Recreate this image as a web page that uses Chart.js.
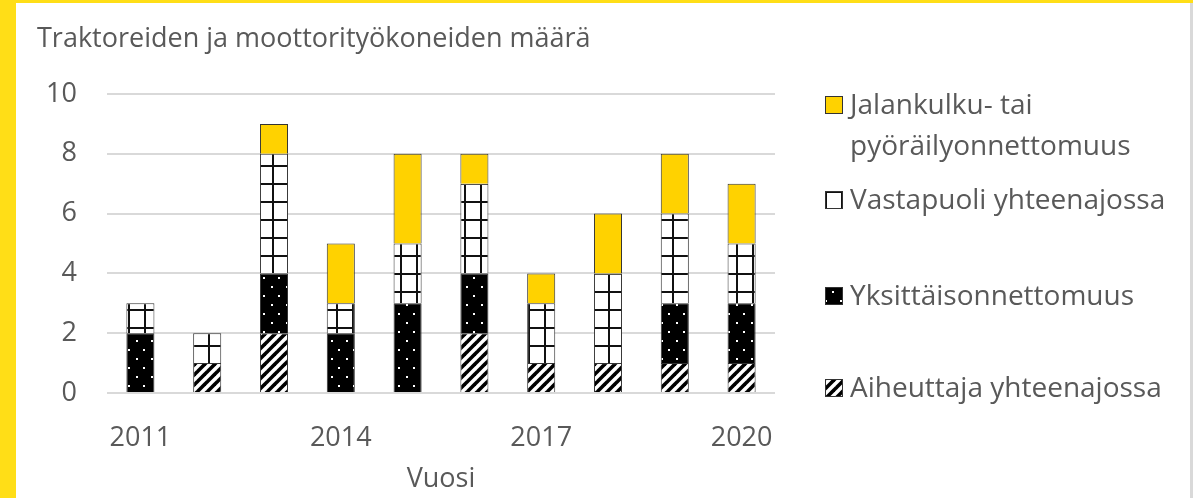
<!DOCTYPE html>
<html>
<head>
<meta charset="utf-8">
<script src="https://cdn.jsdelivr.net/npm/chart.js@4"></script>
<style>
  html, body { margin: 0; padding: 0; background: #FFDE17; }
  body { width: 1193px; height: 498px; position: relative; overflow: hidden; }
  #frame {
    position: absolute; left: 16px; top: 3px; width: 1174px; height: 495px;
    background: #fff; border-right: 3px solid #d9d9d9;
  }
  #chartBox { position: absolute; left: 0; top: 0; width: 1174px; height: 495px; }
  .leg { position: absolute; font-family: "Open Sans", sans-serif; font-size: 28px;
         color: #595959; line-height: 41px; white-space: nowrap; }
  .leg canvas { position: absolute; left: 0; }
  .leg span { position: absolute; left: 25px; top: 0; }
</style>
</head>
<body>
<div id="frame">
  <div id="chartBox"><canvas id="stackChart"></canvas></div>
  <div id="legend"></div>
</div>
<script>
let years = ['2011', '2012', '2013', '2014', '2015', '2016', '2017', '2018', '2019', '2020'];

let seriesNames = [
    'Aiheuttaja yhteenajossa',
    'Yksittäisonnettomuus',
    'Vastapuoli yhteenajossa',
    'Jalankulku- tai pyöräilyonnettomuus'
];

let aiheuttaja = [0, 1, 2, 0, 0, 2, 1, 1, 1, 1];
let yksittais  = [2, 0, 2, 2, 3, 2, 0, 0, 2, 2];
let vastapuoli = [1, 1, 4, 1, 2, 3, 2, 3, 3, 2];
let jalankulku = [0, 0, 1, 2, 3, 1, 1, 2, 2, 2];

let yTicks = [0, 2, 4, 6, 8, 10];

// fill patterns like the excel ones
function makeTile(w, h, draw) {
    const c = document.createElement('canvas');
    c.width = w; c.height = h;
    draw(c.getContext('2d'), w, h);
    return c;
}

const stripeTile = makeTile(10, 10, (g, w, h) => {
    g.fillStyle = '#fff'; g.fillRect(0, 0, w, h);
    g.strokeStyle = '#000'; g.lineWidth = 3.6;
    [[-10, 10, 10, -10], [0, 10, 10, 0], [0, 20, 20, 0]].forEach(l => {
        g.beginPath(); g.moveTo(l[0], l[1]); g.lineTo(l[2], l[3]); g.stroke();
    });
});

const dotTile = makeTile(15, 18, (g, w, h) => {
    g.fillStyle = '#000'; g.fillRect(0, 0, w, h);
    g.fillStyle = '#fff';
    g.fillRect(7, 4, 2, 2);
    g.fillRect(0, 13, 2, 2);
});

const gridTile = makeTile(16, 18, (g, w, h) => {
    g.fillStyle = '#fff'; g.fillRect(0, 0, w, h);
    g.fillStyle = '#111';
    g.fillRect(0, 0, 2, h);
    g.fillRect(0, 0, w, 2);
});

const tmp = document.createElement('canvas').getContext('2d');
const stripes = tmp.createPattern(stripeTile, 'repeat');
const dots = tmp.createPattern(dotTile, 'repeat');
const grid = tmp.createPattern(gridTile, 'repeat');
const yellow = '#FFD200';

let fills = [stripes, dots, grid, yellow];
let values = [aiheuttaja, yksittais, vastapuoli, jalankulku];

const data = {
    labels: years,
    datasets: values.map((v, i) => ({
        label: seriesNames[i],
        data: v,
        backgroundColor: fills[i],
        borderColor: '#333',
        borderWidth: 1,
        barPercentage: 0.42,
        categoryPercentage: 1
    }))
};

const tickFont = { family: 'Open Sans', size: 27 };

const config = {
    type: 'bar',
    data: data,
    options: {
        responsive: false,
        animation: false,
        layout: { padding: { left: 21, right: 415, top: 0, bottom: 0 } },
        plugins: {
            legend: { display: false },
            tooltip: { enabled: false },
            title: {
                display: true,
                text: 'Traktoreiden ja moottorityökoneiden määrä',
                align: 'start',
                color: '#595959',
                font: { family: 'Open Sans', size: 27, weight: 'normal' },
                padding: { top: 20, bottom: 38.6 }
            }
        },
        scales: {
            x: {
                stacked: true,
                grid: { display: false, drawTicks: false },
                border: { display: false },
                ticks: {
                    autoSkip: false,
                    maxRotation: 0,
                    padding: 29,
                    color: '#595959',
                    font: tickFont,
                    callback: function (val, idx) {
                        return idx % 3 === 0 ? years[idx] : '';
                    }
                },
                title: {
                    display: true,
                    text: 'Vuosi',
                    color: '#595959',
                    font: tickFont,
                    padding: { top: 0, bottom: 2 }
                },
                afterFit: s => { s.height = 105; }
            },
            y: {
                stacked: true,
                min: 0,
                max: 10,
                afterBuildTicks: s => { s.ticks = yTicks.map(v => ({ value: v })); },
                grid: { color: '#d9d9d9', lineWidth: 2, drawTicks: false },
                border: { display: false },
                ticks: { padding: 30, color: '#595959', font: tickFont },
                afterFit: s => { s.width = 70; }
            }
        }
    }
};

const cv = document.getElementById('stackChart');
cv.width = 1174; cv.height = 495;
const chart = new Chart(cv, config);

// legend on the right, top entry first
const legendRows = [
    { idx: 3, top: 83, lines: ['Jalankulku- tai', 'pyöräilyonnettomuus'] },
    { idx: 2, top: 178, lines: ['Vastapuoli yhteenajossa'] },
    { idx: 1, top: 274, lines: ['Yksittäisonnettomuus'] },
    { idx: 0, top: 366, lines: ['Aiheuttaja yhteenajossa'] }
];
const legendEl = document.getElementById('legend');
legendRows.forEach(r => {
    const d = document.createElement('div');
    d.className = 'leg';
    d.style.left = (825 - 16) + 'px';
    d.style.top = (r.top - 3) + 'px';
    const box = document.createElement('canvas');
    box.width = 18; box.height = 18;
    box.style.top = '13px';
    const g = box.getContext('2d');
    g.fillStyle = fills[r.idx];
    g.fillRect(0, 0, 18, 18);
    g.strokeStyle = '#333'; g.lineWidth = 1;
    g.strokeRect(0.5, 0.5, 17, 17);
    d.appendChild(box);
    const sp = document.createElement('span');
    sp.innerHTML = r.lines.join('<br>');
    d.appendChild(sp);
    legendEl.appendChild(d);
});
</script>
</body>
</html>
